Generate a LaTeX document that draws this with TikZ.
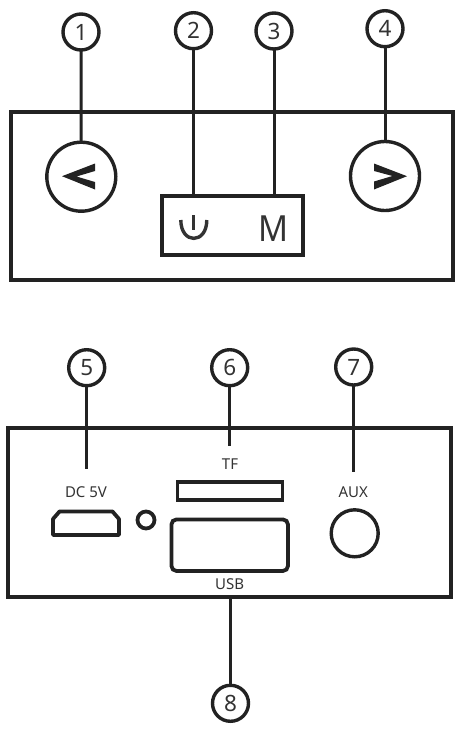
\documentclass[tikz,border=0pt]{standalone}
\usepackage{fontspec}
\setmainfont{Noto Sans}
\definecolor{inkdark}{HTML}{222222}
\definecolor{inktext}{HTML}{333333}
\tikzset{
    frame/.style={draw=inkdark,line width=4pt,rectangle,inner sep=0pt,outer sep=0pt},
    numcircle/.style={draw=inkdark,line width=3.4pt,circle,inner sep=0pt,outer sep=0pt,
        minimum size=36pt,text=inktext,font=\fontsize{22.5}{22.5}\selectfont},
    bigbutton/.style={draw=inkdark,line width=3.4pt,circle,inner sep=0pt,outer sep=0pt,minimum size=69pt},
    portlabel/.style={text=inktext,inner sep=0pt,font=\fontsize{15}{15}\selectfont},
    leader/.style={draw=inkdark,line width=3pt},
    port/.style={draw=inkdark,line width=3.8pt}
}
\begin{document}
\begin{tikzpicture}[x=1pt,y=-1pt]
    \useasboundingbox (0,0) rectangle (466,734);
    % top panel
    \node[frame,minimum width=442pt,minimum height=168.5pt] (toppanel) at (232,196) {};
    \node[bigbutton] (prevbtn) at (81.3,176.7) {};
    \node[bigbutton] (nextbtn) at (385,176) {};
    \node[frame,line width=3.6pt,minimum width=141pt,minimum height=59.5pt] (modebox) at (232.2,225.5) {};
    \node[numcircle] (num1) at (81,32) {1};
    \node[numcircle] (num2) at (193.5,30.7) {2};
    \node[numcircle] (num3) at (274,31) {3};
    \node[numcircle] (num4) at (385,28.7) {4};
    \draw[leader] (num1) -- (prevbtn);
    \draw[leader] (num2) -- (num2 |- modebox.north);
    \draw[leader] (num3) -- (num3 |- modebox.north);
    \draw[leader] (num4) -- (nextbtn);
    % arrows on the round buttons
    \fill[inkdark] (62,176.2) -- (95,163.5) -- (95,171) -- (76.5,176.5) -- (95,182) -- (95,189.5) -- cycle;
    \fill[inkdark] (407,176.2) -- (374,163.5) -- (374,171) -- (392.5,176) -- (374,181.5) -- (374,189.5) -- cycle;
    % power sign and M
    \draw[inktext,line width=3.4pt] (180.8,220) .. controls (180.8,244.5) and (206.8,244.5) .. (206.8,220);
    \draw[inktext,line width=2.8pt] (193.7,215) -- (193.7,230);
    \node[text=inktext,inner sep=0pt,xscale=.92,font=\fontsize{36}{36}\selectfont] (modelabel) at (273.5,228.3) {M};
    % bottom panel
    \node[frame,minimum width=443.5pt,minimum height=169pt] (backpanel) at (229.4,512.2) {};
    \node[numcircle] (num5) at (86.7,367.7) {5};
    \node[numcircle] (num6) at (229.7,367.7) {6};
    \node[numcircle] (num7) at (353.7,367) {7};
    \node[numcircle] (num8) at (230.5,703.3) {8};
    \node[portlabel] (dclabel) at (86,492.3) {DC 5V};
    \node[portlabel] (tflabel) at (230,464.3) {TF};
    \node[portlabel] (auxlabel) at (353.3,492) {AUX};
    \node[portlabel] (usblabel) at (229.7,584) {USB};
    \coordinate (dcend) at (86.7,468.5);
    \coordinate (tfend) at (229.7,446);
    \coordinate (auxend) at (353.7,472);
    \draw[leader] (num5) -- (dcend);
    \draw[leader] (num6) -- (tfend);
    \draw[leader] (num7) -- (auxend);
    \draw[leader] (num8) -- (num8 |- backpanel.south);
    % ports
    \draw[port,line join=round] (53,535) -- (53,519) -- (59.5,511.5) -- (112.5,511.5) -- (119,519) -- (119,535) -- cycle;
    \node[port,circle,inner sep=0pt,outer sep=0pt,minimum size=17pt] (ledhole) at (146,520) {};
    \node[port,rectangle,inner sep=0pt,outer sep=0pt,minimum width=105pt,minimum height=18pt] (tfslot) at (230,491) {};
    \node[port,rectangle,rounded corners=5pt,inner sep=0pt,outer sep=0pt,minimum width=116.5pt,minimum height=51.5pt] (usbslot) at (229.7,545.2) {};
    \node[port,line width=3.4pt,circle,inner sep=0pt,outer sep=0pt,minimum size=47pt] (auxjack) at (354.7,533.3) {};
\end{tikzpicture}
\end{document}
